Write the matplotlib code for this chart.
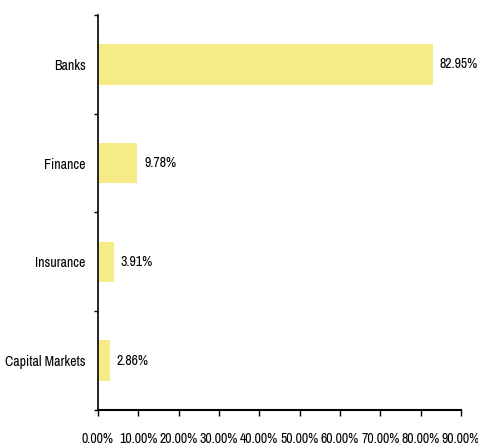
import matplotlib.pyplot as plt
from matplotlib import font_manager
import numpy as np

available = {f.name for f in font_manager.fontManager.ttflist}
if 'Archivo Narrow' in available:
    plt.rcParams['font.family'] = ['Archivo Narrow', 'DejaVu Sans']
    fs = 10
else:
    plt.rcParams['font.family'] = ['DejaVu Sans']
    fs = 8

categories = ['Capital Markets', 'Insurance', 'Finance', 'Banks']
values = [2.86, 3.91, 9.78, 82.95]
xticks = [0, 10, 20, 30, 40, 50, 60, 70, 80, 90]

fig = plt.figure(figsize=(4.78, 4.47), dpi=100)
ax = fig.add_axes([0.205, 0.083, 0.7594, 0.8836])

y = np.arange(len(categories))
ax.barh(y, values, height=0.41, color='#F5EB87')
for yi, v in zip(y, values):
    ax.text(v + 1.7, yi, f'{v:.2f}%', va='center', ha='left', fontsize=fs)

ax.set_xlim(0, 90)
ax.set_ylim(-0.5, len(categories) - 0.5)
ax.set_xticks(xticks)
ax.set_xticklabels([f'{t:.2f}%' for t in xticks], fontsize=fs)
ax.set_yticks(y)
ax.set_yticklabels(categories, fontsize=fs)
ax.set_yticks(np.arange(-0.5, len(categories)), minor=True)
ax.tick_params(axis='y', which='major', length=0, pad=9)
ax.tick_params(axis='y', which='minor', length=3, width=1)
ax.tick_params(axis='x', length=4, width=1, pad=12)

for s in ['top', 'right']:
    ax.spines[s].set_visible(False)
ax.spines['left'].set_linewidth(1.2)
ax.spines['bottom'].set_linewidth(1.5)

fig.savefig('out.png', dpi=100)
